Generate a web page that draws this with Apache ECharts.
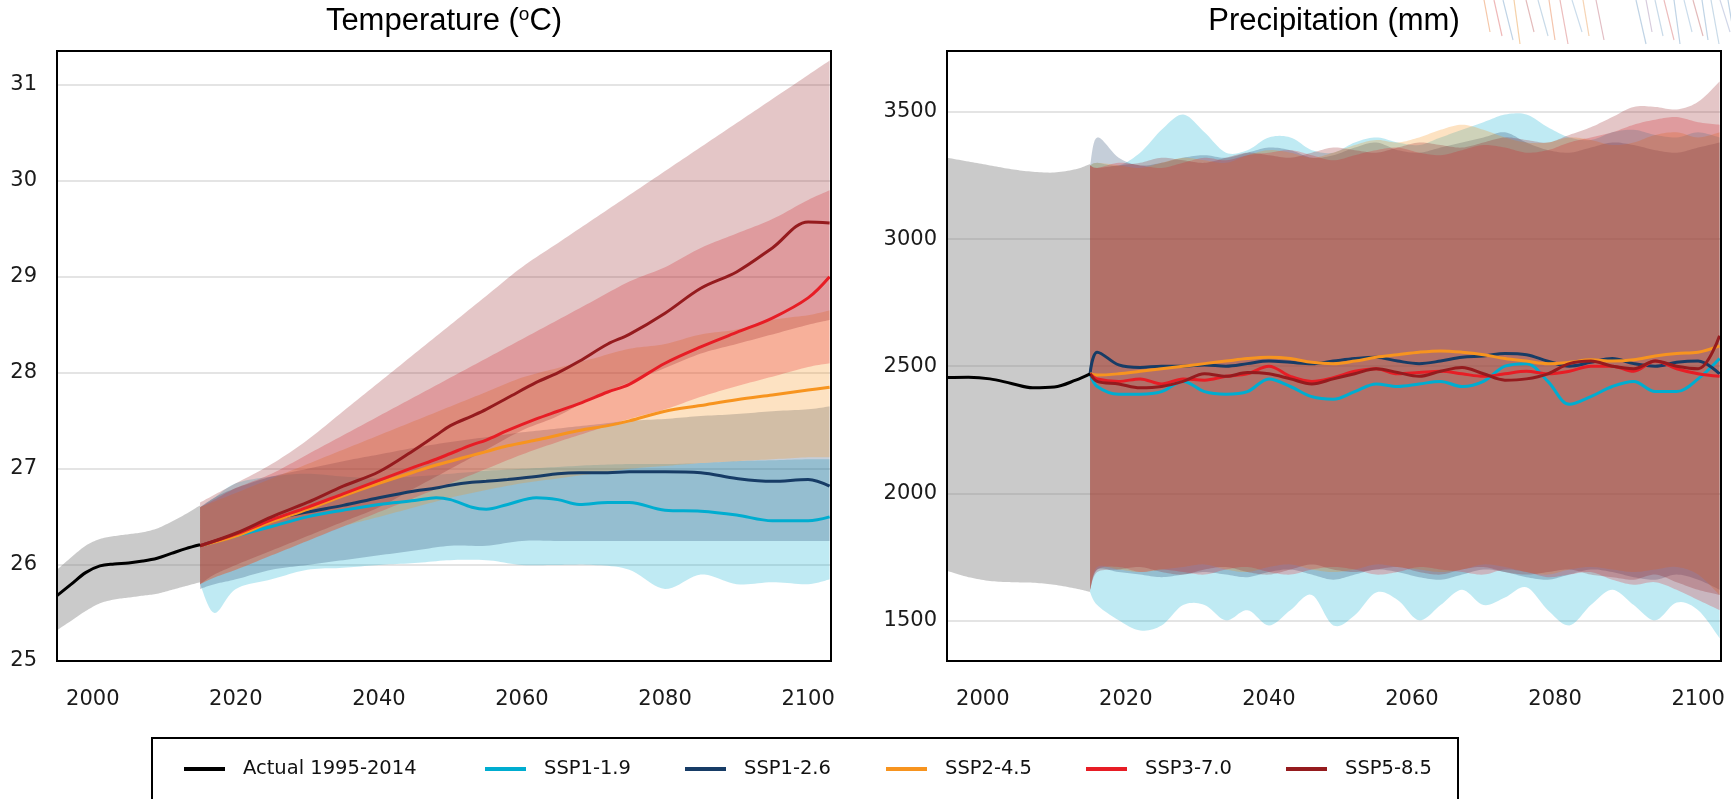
<!DOCTYPE html>
<html><head><meta charset="utf-8">
<script src="https://cdn.jsdelivr.net/npm/echarts@6/dist/echarts.min.js"></script>
<style>html,body{margin:0;padding:0;background:#fff}#c{width:1731px;height:799px}</style>
</head><body><div id="c"></div>
<script>
// ---------- labels ----------
const seriesNames = ['Actual 1995-2014','SSP1-1.9','SSP1-2.6','SSP2-4.5','SSP3-7.0','SSP5-8.5'];
const seriesColors = ['#000000','#00add0','#173c66','#f7941f','#e71d25','#951b1e'];
const xTickValues = [2000,2020,2040,2060,2080,2100];
const tempTickValues = [25,26,27,28,29,30,31];
const precTickValues = [1500,2000,2500,3000,3500];

// ---------- temperature: observed ----------
const tempActualYears = [1995,1997,1999,2001,2003,2005,2007,2009,2011,2013,2015];
const tempActual   = [25.68,25.80,25.92,25.99,26.01,26.02,26.04,26.07,26.12,26.17,26.21];
const tempActualLo = [25.32,25.42,25.52,25.60,25.64,25.66,25.68,25.70,25.74,25.78,25.82];
const tempActualHi = [25.95,26.08,26.20,26.27,26.30,26.32,26.34,26.38,26.45,26.53,26.62];

// ---------- temperature: projections (lines) ----------
const tempLineYears = [2015,2020,2025,2030,2035,2040,2045,2048,2050,2053,2055,2058,2062,2065,2068,2072,2075,2080,2085,2090,2095,2100,2103];
const tempSSP119 = [26.20,26.30,26.40,26.50,26.57,26.63,26.67,26.70,26.68,26.60,26.58,26.63,26.70,26.68,26.63,26.65,26.65,26.57,26.56,26.52,26.46,26.46,26.50];
const tempSSP126 = [26.20,26.32,26.47,26.55,26.62,26.70,26.77,26.80,26.83,26.86,26.87,26.89,26.92,26.95,26.96,26.96,26.97,26.97,26.96,26.90,26.87,26.89,26.82];
const tempSSP245 = [26.20,26.30,26.45,26.58,26.72,26.85,26.97,27.04,27.08,27.14,27.18,27.24,27.30,27.35,27.40,27.45,27.50,27.60,27.66,27.72,27.77,27.82,27.85];
const tempSSP370 = [26.20,26.32,26.47,26.60,26.74,26.88,27.02,27.10,27.16,27.25,27.30,27.40,27.52,27.60,27.68,27.80,27.88,28.10,28.27,28.42,28.57,28.78,29.00];
const tempSSP585 = [26.20,26.33,26.50,26.65,26.82,26.97,27.20,27.35,27.45,27.55,27.62,27.74,27.90,28.00,28.12,28.30,28.40,28.62,28.88,29.05,29.30,29.57,29.56];

// ---------- temperature: projections (ranges) ----------
const tempBandYears = [2015,2017,2020,2025,2030,2035,2040,2045,2050,2055,2060,2065,2070,2075,2080,2085,2090,2095,2100,2103];
const tempSSP119Lo = [25.80,25.50,25.75,25.85,25.95,25.97,26.00,26.02,26.05,26.05,26.00,26.00,26.00,25.95,25.75,25.90,25.80,25.82,25.80,25.85];
const tempSSP119Hi = [26.60,26.70,26.85,26.92,26.95,26.92,26.90,26.92,26.95,26.98,27.00,27.02,27.04,27.05,27.05,27.06,27.08,27.09,27.10,27.10];
const tempSSP126Lo = [25.75,25.80,25.85,25.95,26.00,26.05,26.10,26.15,26.20,26.20,26.25,26.25,26.25,26.25,26.25,26.25,26.25,26.25,26.25,26.25];
const tempSSP126Hi = [26.60,26.70,26.80,26.92,27.00,27.08,27.15,27.22,27.28,27.33,27.38,27.42,27.46,27.50,27.52,27.55,27.57,27.60,27.62,27.65];
const tempSSP245Lo = [25.80,25.87,25.95,26.10,26.25,26.40,26.50,26.60,26.70,26.78,26.85,26.90,26.95,27.00,27.03,27.06,27.08,27.10,27.12,27.12];
const tempSSP245Hi = [26.60,26.66,26.75,26.90,27.05,27.20,27.35,27.50,27.65,27.80,27.95,28.05,28.15,28.25,28.30,28.40,28.45,28.55,28.60,28.65];
const tempSSP370Lo = [25.80,25.87,25.95,26.10,26.25,26.40,26.55,26.70,26.85,27.00,27.15,27.28,27.40,27.52,27.62,27.75,27.86,27.96,28.06,28.10];
const tempSSP370Hi = [26.60,26.68,26.80,26.95,27.15,27.35,27.55,27.75,27.95,28.15,28.35,28.55,28.75,28.95,29.10,29.30,29.45,29.60,29.80,29.90];
const tempSSP585Lo = [25.80,25.90,26.00,26.15,26.30,26.45,26.60,26.80,27.00,27.20,27.40,27.55,27.75,27.90,28.05,28.20,28.30,28.40,28.50,28.55];
const tempSSP585Hi = [26.65,26.73,26.85,27.05,27.30,27.60,27.90,28.20,28.50,28.80,29.10,29.35,29.60,29.85,30.10,30.35,30.60,30.85,31.10,31.25];

// ---------- precipitation: observed ----------
const precActualYears = [1995,1998,2001,2004,2007,2010,2013,2015];
const precActual   = [2455,2456,2450,2432,2415,2418,2445,2470];
const precActualLo = [1695,1670,1655,1650,1648,1640,1625,1612];
const precActualHi = [3320,3305,3290,3275,3265,3262,3275,3295];

// ---------- precipitation: projections ----------
const precYears = [2015,2016,2019,2022,2025,2028,2031,2034,2037,2040,2043,2046,2049,2052,2055,2058,2061,2064,2067,2070,2073,2076,2079,2082,2085,2088,2091,2094,2097,2100,2103];
const precSSP119 = [2470,2420,2390,2390,2400,2440,2400,2390,2400,2450,2420,2380,2370,2400,2430,2420,2430,2440,2420,2440,2500,2510,2440,2350,2380,2420,2440,2400,2400,2450,2530];
const precSSP126 = [2470,2555,2505,2495,2500,2500,2505,2500,2510,2520,2515,2510,2520,2530,2535,2520,2510,2520,2535,2540,2550,2545,2520,2500,2515,2530,2510,2500,2515,2520,2470];
const precSSP245 = [2470,2465,2470,2480,2490,2500,2510,2520,2530,2535,2530,2515,2510,2520,2535,2545,2555,2560,2555,2545,2530,2520,2510,2515,2525,2520,2525,2540,2550,2555,2580];
const precSSP370 = [2470,2450,2440,2450,2430,2450,2445,2460,2470,2500,2460,2440,2455,2480,2490,2470,2475,2480,2470,2460,2470,2480,2470,2480,2500,2500,2480,2520,2490,2470,2460];
const precSSP585 = [2470,2440,2430,2415,2420,2440,2470,2460,2475,2470,2450,2430,2450,2470,2490,2475,2460,2480,2495,2470,2445,2450,2470,2510,2520,2500,2490,2520,2500,2490,2620];
const precSSP119Lo = [1610,1560,1500,1460,1480,1560,1560,1500,1540,1480,1540,1600,1480,1520,1610,1580,1500,1560,1620,1560,1590,1630,1540,1480,1560,1620,1560,1500,1570,1540,1430];
const precSSP119Hi = [3290,3300,3290,3340,3430,3490,3420,3340,3350,3400,3400,3350,3340,3380,3400,3380,3370,3400,3430,3460,3490,3490,3440,3400,3390,3420,3430,3410,3400,3420,3400];
const precSSP126Lo = [1620,1700,1690,1680,1670,1680,1690,1680,1670,1690,1700,1680,1660,1680,1700,1690,1670,1660,1680,1700,1690,1670,1660,1680,1700,1690,1670,1660,1680,1660,1620];
const precSSP126Hi = [3290,3400,3320,3290,3300,3320,3330,3320,3340,3360,3350,3320,3330,3360,3380,3350,3340,3360,3380,3400,3420,3380,3350,3340,3360,3380,3370,3350,3340,3360,3380];
const precSSP245Lo = [1620,1710,1700,1690,1700,1710,1720,1700,1690,1710,1720,1700,1690,1700,1720,1710,1700,1690,1700,1720,1710,1690,1680,1700,1710,1700,1690,1700,1710,1680,1600];
const precSSP245Hi = [3290,3300,3290,3280,3300,3320,3310,3300,3330,3350,3340,3320,3340,3370,3390,3380,3400,3430,3450,3430,3400,3380,3380,3400,3390,3370,3380,3410,3420,3400,3420];
const precSSP370Lo = [1620,1700,1710,1690,1700,1690,1680,1700,1710,1690,1680,1700,1710,1700,1680,1690,1710,1700,1690,1680,1700,1690,1670,1680,1690,1660,1640,1650,1620,1580,1540];
const precSSP370Hi = [3290,3280,3300,3290,3280,3300,3320,3310,3330,3340,3350,3330,3310,3330,3350,3360,3340,3330,3350,3370,3360,3340,3350,3380,3400,3420,3450,3470,3480,3460,3450];
const precSSP585Lo = [1620,1690,1700,1710,1690,1680,1700,1710,1690,1680,1700,1720,1700,1690,1700,1710,1690,1680,1700,1710,1690,1680,1690,1700,1680,1670,1660,1680,1650,1620,1600];
const precSSP585Hi = [3290,3280,3290,3300,3320,3310,3300,3320,3340,3330,3320,3340,3360,3350,3340,3360,3380,3370,3360,3380,3400,3390,3380,3410,3440,3480,3520,3520,3510,3540,3620];

// ---------- build ----------
const bandFill = ['rgba(128,128,128,0.42)','rgba(0,173,207,0.25)','rgba(23,60,102,0.25)','rgba(247,148,31,0.27)','rgba(231,29,37,0.25)','rgba(149,27,30,0.25)'];
const series = [];

// Catmull-Rom densify in pixel space
function smoothPts(p) {
  const out = [];
  const n = p.length;
  for (let i = 0; i < n - 1; i++) {
    const p0 = p[Math.max(i - 1, 0)], p1 = p[i], p2 = p[i + 1], p3 = p[Math.min(i + 2, n - 1)];
    const steps = 10;
    for (let s = 0; s < steps; s++) {
      const t = s / steps, t2 = t * t, t3 = t2 * t;
      const f = (a, b, c, d) => 0.5 * ((2 * b) + (-a + c) * t + (2 * a - 5 * b + 4 * c - d) * t2 + (-a + 3 * b - 3 * c + d) * t3);
      out.push([f(p0[0], p1[0], p2[0], p3[0]), f(p0[1], p1[1], p2[1], p3[1])]);
    }
  }
  out.push(p[n - 1]);
  return out;
}
function addBand(gi, years, lo, hi, fill) {
  series.push({
    type:'custom', xAxisIndex:gi, yAxisIndex:gi, silent:true, z:1, clip:true,
    data: years.map((y,i)=>[y, lo[i], hi[i]]),
    encode:{x:0, y:[1,2]},
    renderItem:(params, api) => {
      if (params.dataIndex !== 0) return null;
      const top = years.map((y,i)=>api.coord([y, hi[i]]));
      const bot = years.map((y,i)=>api.coord([y, lo[i]]));
      const pts = smoothPts(top).concat(smoothPts(bot).reverse());
      return {type:'polygon', shape:{points:pts}, style:{fill:fill}};
    }
  });
}
function addLine(gi, name, years, vals, color) {
  series.push({type:'line', name, xAxisIndex:gi, yAxisIndex:gi, symbol:'none', smooth:0.35, silent:true,
    lineStyle:{color, width:3}, itemStyle:{color}, data: years.map((y,i)=>[y, vals[i]]), z:3});
}
// temperature
addBand(0, tempActualYears, tempActualLo, tempActualHi, bandFill[0]);
addBand(0, tempBandYears, tempSSP119Lo, tempSSP119Hi, bandFill[1]);
addBand(0, tempBandYears, tempSSP126Lo, tempSSP126Hi, bandFill[2]);
addBand(0, tempBandYears, tempSSP245Lo, tempSSP245Hi, bandFill[3]);
addBand(0, tempBandYears, tempSSP370Lo, tempSSP370Hi, bandFill[4]);
addBand(0, tempBandYears, tempSSP585Lo, tempSSP585Hi, bandFill[5]);
addLine(0, seriesNames[1], tempLineYears, tempSSP119, seriesColors[1]);
addLine(0, seriesNames[2], tempLineYears, tempSSP126, seriesColors[2]);
addLine(0, seriesNames[3], tempLineYears, tempSSP245, seriesColors[3]);
addLine(0, seriesNames[4], tempLineYears, tempSSP370, seriesColors[4]);
addLine(0, seriesNames[5], tempLineYears, tempSSP585, seriesColors[5]);
addLine(0, seriesNames[0], tempActualYears, tempActual, seriesColors[0]);
// precipitation
addBand(1, precActualYears, precActualLo, precActualHi, bandFill[0]);
addBand(1, precYears, precSSP119Lo, precSSP119Hi, bandFill[1]);
addBand(1, precYears, precSSP126Lo, precSSP126Hi, bandFill[2]);
addBand(1, precYears, precSSP245Lo, precSSP245Hi, bandFill[3]);
addBand(1, precYears, precSSP370Lo, precSSP370Hi, bandFill[4]);
addBand(1, precYears, precSSP585Lo, precSSP585Hi, bandFill[5]);
addLine(1, seriesNames[1], precYears, precSSP119, seriesColors[1]);
addLine(1, seriesNames[2], precYears, precSSP126, seriesColors[2]);
addLine(1, seriesNames[3], precYears, precSSP245, seriesColors[3]);
addLine(1, seriesNames[4], precYears, precSSP370, seriesColors[4]);
addLine(1, seriesNames[5], precYears, precSSP585, seriesColors[5]);
addLine(1, seriesNames[0], precActualYears, precActual, seriesColors[0]);

const tickFont = {fontFamily:'DejaVu Sans', fontSize:21, color:'#1a1a1a'};
function xAxis(gi) {
  return {type:'value', gridIndex:gi, min:1995, max:2103.2,
    axisLine:{show:false}, splitLine:{show:false},
    axisTick:{show:false, customValues:xTickValues},
    axisLabel:Object.assign({customValues:xTickValues, margin:28, formatter:v=>String(v)}, tickFont)};
}
const legendLeft = [184, 485, 685, 886, 1086, 1286];

// faint decorative strokes behind the right title (top-right corner)
const deco = [];
const decoX = [1484,1494,1503,1514,1526,1538,1549,1560,1572,1583,1596,1636,1646,1655,1664,1674,1684,1693,1702,1711,1720,1728];
const decoCol = ['#f2b38a','#e9a0a0','#a9c4dc','#f2c08a','#d9a3a3','#b5cde0','#f0b090','#e6a6a6','#b8d0e4','#f3c49a','#d8a8b0',
                 '#a9c4dc','#c8b8d0','#b5cde0','#e6a6a6','#a9c4dc','#b8d0e4','#d9a3a3','#a9c4dc','#b5cde0','#c0c8e0','#a9c4dc'];
decoX.forEach((x,i)=>deco.push({type:'line', shape:{x1:x, y1:0, x2:x+6+(i%3)*2, y2:32+(i%4)*4}, style:{stroke:decoCol[i], lineWidth:1.2, opacity:0.75}, z:0, silent:true}));

const option = {
  animation:false,
  backgroundColor:'#ffffff',
  grid:[
    {left:57, top:51, width:774, height:610, show:true, borderColor:'#000', borderWidth:2, backgroundColor:'transparent', z:4},
    {left:947, top:51, width:774, height:610, show:true, borderColor:'#000', borderWidth:2, backgroundColor:'transparent', z:4}
  ],
  xAxis:[xAxis(0), xAxis(1)],
  yAxis:[
    {type:'value', gridIndex:0, min:25, max:31.35, interval:1,
      axisLine:{show:false}, axisTick:{show:false},
      splitLine:{lineStyle:{color:'#e4e4e4', width:2}},
      axisLabel:Object.assign({margin:20, formatter:v=>tempTickValues.includes(v)?String(v):''}, tickFont)},
    {type:'value', gridIndex:1, min:1340, max:3740,
      axisLine:{show:false}, axisTick:{show:false, customValues:precTickValues},
      splitLine:{lineStyle:{color:'#e4e4e4', width:2}},
      axisLabel:Object.assign({margin:10, customValues:precTickValues, formatter:v=>String(v)}, tickFont)}
  ],
  legend: seriesNames.map((n,i)=>({
    data:[n], left:legendLeft[i], top:759, padding:0, itemWidth:41, itemHeight:4, icon:'rect',
    selectedMode:false,
    textStyle:{fontFamily:'DejaVu Sans', fontSize:19.5, color:'#111', padding:[0,0,0,13]}
  })),
  graphic: deco.concat([
    {type:'rect', shape:{x:152, y:738, width:1306, height:90}, style:{fill:'none', stroke:'#000', lineWidth:2}, z:10},
    {type:'text', x:444, y:21, z:5, style:{text:'{a|Temperature (}{s|o}{a|C)}', align:'center', verticalAlign:'middle',
      rich:{a:{fontFamily:'Liberation Sans', fontSize:31, fill:'#000'}, s:{fontFamily:'Liberation Sans', fontSize:19, fill:'#000', verticalAlign:'top'}}}},
    {type:'text', x:1334, y:21, z:5, style:{text:'Precipitation (mm)', align:'center', verticalAlign:'middle',
      fontFamily:'Liberation Sans', fontSize:31, fill:'#000'}}
  ]),
  series
};
const chart = echarts.init(document.getElementById('c'), null, {renderer:'canvas'});
chart.setOption(option);
</script></body></html>
